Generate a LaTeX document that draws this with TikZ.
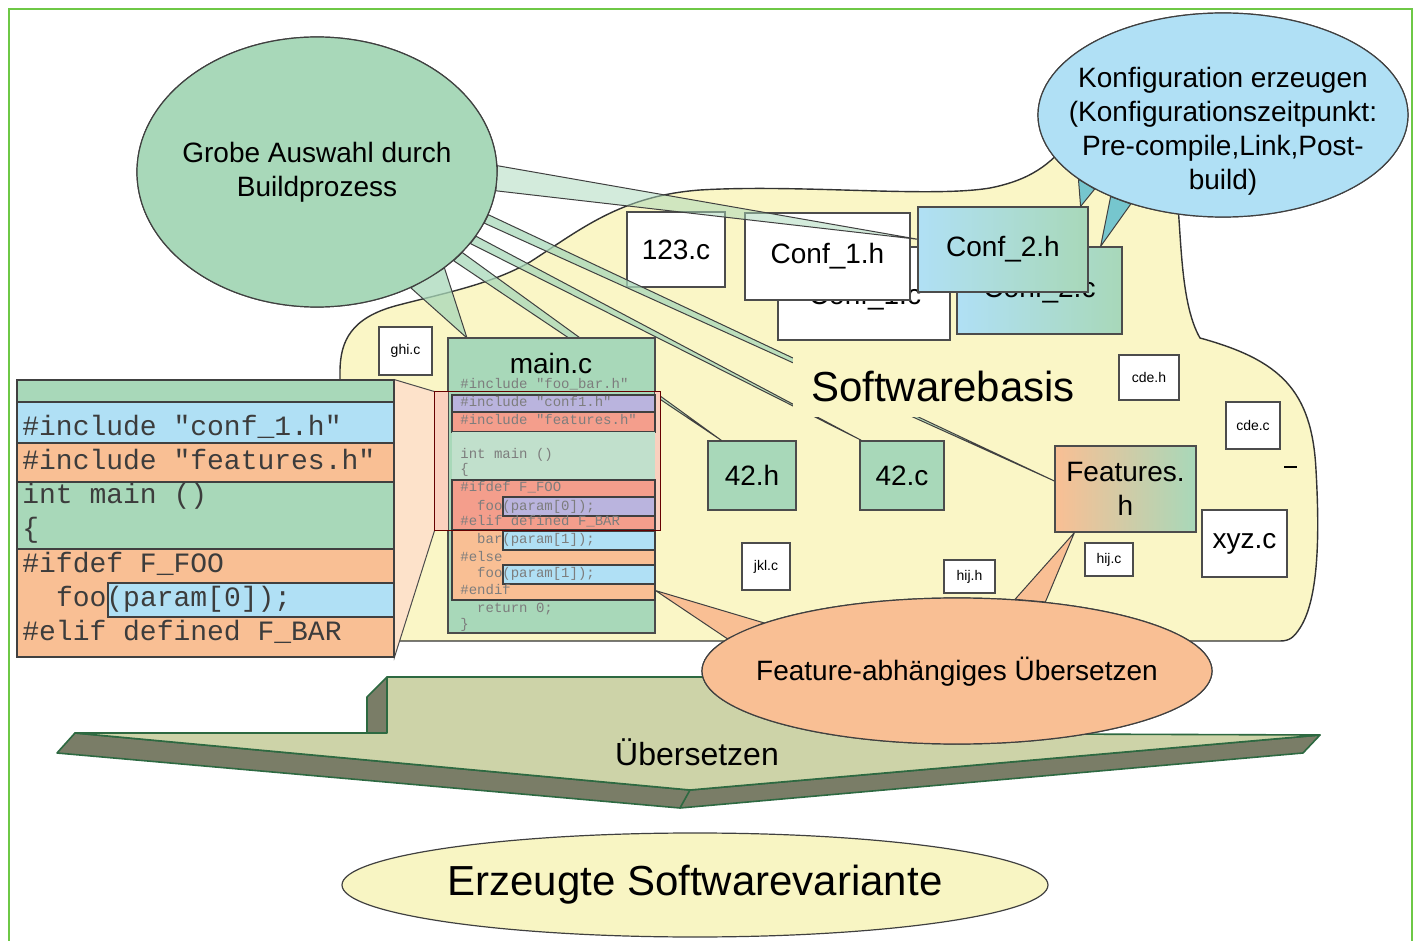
\documentclass[tikz,border=0pt]{standalone}
\usepackage{fontspec}
\setmainfont{Liberation Sans}
\setmonofont{Liberation Mono}
\usetikzlibrary{shapes.geometric,calc}

\definecolor{cgreen}{RGB}{168,216,185}
\definecolor{cblue}{RGB}{176,224,245}
\definecolor{corange}{RGB}{249,191,148}
\definecolor{cyellow}{RGB}{250,246,198}
\definecolor{cpurple}{RGB}{186,180,222}
\definecolor{cred}{RGB}{244,158,140}
\definecolor{cpaleg}{RGB}{193,224,204}
\definecolor{cpink}{RGB}{250,208,190}
\definecolor{cpeach}{RGB}{253,226,202}
\definecolor{cteal}{RGB}{118,198,206}
\definecolor{cmid}{RGB}{240,222,172}
\definecolor{arrowtop}{RGB}{205,211,168}
\definecolor{arrowdark}{RGB}{122,125,103}
\definecolor{arrowedge}{RGB}{45,105,65}
\definecolor{framegreen}{RGB}{110,200,70}
\definecolor{codegray}{RGB}{125,125,125}
\definecolor{codedark}{RGB}{60,60,60}
\definecolor{cresult}{RGB}{248,245,195}

\begin{document}
\begin{tikzpicture}[x=0.5pt,y=-0.5pt,
  sz/.style 2 args={minimum width=#1*0.5pt,minimum height=#2*0.5pt},
  filebox/.style={draw=black!70,fill=white,inner sep=0pt,line width=0.6pt,font=\fontsize{14}{17}\selectfont},
  tinybox/.style={filebox,font=\fontsize{7}{8}\selectfont},
  oval/.style={ellipse,draw=black!75,line width=0.6pt,inner sep=0pt},
  txt/.style={inner sep=0pt,align=center,font=\fontsize{14}{17}\selectfont},
  wedge/.style={draw=black!75,line width=0.5pt,line join=round},
  greenband/.style={wedge,fill=cgreen,fill opacity=0.75},
  coderow/.style={draw=black!75,line width=0.6pt},
  bigcode/.style={inner sep=0pt,anchor=base west,text=codedark,font=\ttfamily\fontsize{14}{16}\selectfont},
  smallcode/.style={inner sep=0pt,anchor=base west,text=codegray,font=\ttfamily\fontsize{7}{8}\selectfont},
]
\useasboundingbox (0,0) rectangle (1421,941);

% outer frame
\draw[framegreen,line width=1pt] (9,9) rectangle (1412,990);

% three-dimensional arrow "Übersetzen"
\filldraw[fill=arrowdark,draw=arrowedge,line width=0.8pt,line join=round]
  (57,753) -- (75,733) -- (690,790) -- (1320,735) -- (1303,753) -- (680,808) -- cycle;
\filldraw[fill=arrowdark,draw=arrowedge,line width=0.8pt,line join=round]
  (367,697) -- (387,677) -- (387,733) -- (367,733) -- cycle;
\filldraw[fill=arrowtop,draw=arrowedge,line width=0.8pt,line join=round]
  (75,733) -- (387,733) -- (387,677) -- (1050,677) -- (1050,734) -- (1320,735) -- (690,790) -- cycle;
\draw[arrowedge,line width=0.8pt] (690,790) -- (680,808);
\node[txt,font=\fontsize{16}{19}\selectfont] (uebers) at (697,752) {Übersetzen};

% resulting variant
\node[oval,fill=cresult,sz={706}{104}] (result) at (695,885) {};
\node[txt,font=\fontsize{21}{25}\selectfont] (resultt) at (695,885) {Erzeugte Softwarevariante};

% software base cloud
\filldraw[fill=cyellow,draw=black!80,line width=0.7pt]
  (352,641) .. controls (344,641) and (340,636) .. (340,626) -- (340,372)
  .. controls (340,340) and (352,318) .. (395,306)
  .. controls (440,294) and (490,285) .. (530,262)
  .. controls (580,230) and (620,196) .. (700,190)
  .. controls (800,184) and (930,198) .. (990,188)
  .. controls (1030,180) and (1050,165) .. (1070,140)
  -- (1175,180)
  .. controls (1182,220) and (1178,300) .. (1200,338)
  .. controls (1280,360) and (1312,390) .. (1316,470)
  .. controls (1320,540) and (1318,600) .. (1300,628)
  .. controls (1294,637) and (1290,641) .. (1280,641) -- cycle;

% files of the software base
\node[tinybox,sz={53}{48}] (ghic) at (405.5,351) {ghi.c};
\node[tinybox,sz={60}{45}] (cdeh) at (1149,377.5) {cde.h};
\node[tinybox,sz={54}{47}] (cdec) at (1253,425.5) {cde.c};
\node[tinybox,sz={48}{47}] (jklc) at (766,566.5) {jkl.c};
\node[tinybox,sz={51}{33}] (hijh) at (969.5,576.5) {hij.h};
\node[tinybox,sz={48}{33}] (hijc) at (1109,559.5) {hij.c};
\node[filebox,fill=cgreen,sz={88}{69}] (h42) at (752,475.5) {42.h};
\node[filebox,fill=cgreen,sz={84}{69}] (c42) at (902,475.5) {42.c};
\node[filebox,sz={85}{67}] (xyz) at (1244.5,543.5) {xyz.c};
\node[filebox,left color=corange,middle color=cmid,right color=cgreen,sz={141}{86},align=center] (feat) at (1125.5,489) {Features.\\h};
\node[filebox,sz={98}{75}] (n123) at (676,249.5) {123.c};
\node[filebox,sz={172}{93}] (conf1c) at (864,293.5) {};
\node[txt] (conf1ct) at (865,297) {Conf\_1.c};
\node[filebox,sz={165}{87}] (conf1h) at (827.5,256.5) {Conf\_1.h};
\node[filebox,left color=cblue,right color=cgreen,sz={165}{87}] (conf2c) at (1039.5,290.5) {Conf\_2.c};
\draw[line width=0.6pt] (1284,467) -- (1297,467);

% build-process ellipse and its callouts
\node[oval,fill=cgreen,sz={360}{270}] (ge) at (317,172) {};
\coordinate (tmain) at ($(ge.center)+(150,166)$);
\coordinate (t42h) at ($(h42.north west)+(14,0)$);
\coordinate (t42c) at ($(c42.north west)+(2,0)$);
\coordinate (tfeat) at ($(feat.west)+(0,-8)$);
\coordinate (tconf) at ($(conf1h.north east)+(8,27)$);
\filldraw[greenband] (ge.-51) -- (tmain) -- (ge.-37) -- cycle;
\filldraw[greenband] (ge.-33) -- (t42h) -- (ge.-29.5) -- cycle;
\filldraw[greenband] (ge.-25) -- (t42c) -- (ge.-22) -- cycle;
\filldraw[greenband] (ge.-17.5) -- (tfeat) -- (ge.-14.5) -- cycle;
\filldraw[greenband,fill opacity=0.5] (ge.2) -- (tconf) -- (ge.-6) -- cycle;
\node[oval,fill=cgreen,sz={360}{270}] at (ge.center) {};
\node[txt] (get) at (ge.center) {Grobe Auswahl durch\\Buildprozess};

\node[filebox,left color=cblue,right color=cgreen,sz={170}{85}] (conf2h) at (1003,249.5) {Conf\_2.h};

% configuration ellipse and its callouts
\node[oval,fill=cblue,sz={370}{204}] (ke) at (1223,115) {};
\coordinate (tk1) at ($(conf2h.north east)+(-8,0)$);
\coordinate (tk2) at ($(conf2c.north east)+(-22,0)$);
\filldraw[wedge,fill=cteal] (ke.-156) -- (tk1) -- (ke.-150) -- cycle;
\filldraw[wedge,fill=cteal] (ke.-144) -- (tk2) -- (ke.-136) -- cycle;
\node[oval,fill=cblue,sz={370}{204}] at (ke.center) {};
\node[txt] (ket) at (1223,131.5) {Konfiguration erzeugen\\(Konfigurationszeitpunkt:\\Pre-compile,Link,Post-\\build)};

% label of the software base
\node[fill=cyellow,inner sep=0pt,sz={300}{62},font=\fontsize{21}{25}\selectfont] (swb) at (943,386) {Softwarebasis};

% zoomed code panel and its link to main.c
\node[inner sep=0pt,sz={377}{277}] (panel) at (205.5,518.5) {};
\node[inner sep=0pt,sz={225}{138}] (zoomsrc) at (547.5,461) {};
\filldraw[fill=cpeach,draw=black!70,line width=0.5pt]
  (panel.north east) -- (zoomsrc.north west) -- (zoomsrc.south west) -- (panel.south east) -- cycle;

\filldraw[coderow,fill=cgreen] (17,380) rectangle (394,402);
\filldraw[coderow,fill=cblue] (17,402) rectangle (394,443);
\filldraw[coderow,fill=corange] (17,443) rectangle (394,482);
\filldraw[coderow,fill=cgreen] (17,482) rectangle (394,549);
\filldraw[coderow,fill=corange] (17,549) rectangle (394,657);
\filldraw[coderow,fill=cblue] (108,583) rectangle (394,617);
\node[bigcode] (p1) at (22,436) {\#include "conf\_1.h"};
\node[bigcode] (p2) at (22,470) {\#include "features.h"};
\node[bigcode] (p3) at (22,504) {int main ()};
\node[bigcode] (p4) at (22,538) {\{};
\node[bigcode] (p5) at (22,573) {\#ifdef F\_FOO};
\node[bigcode] (p6) at (22,606) {\phantom{xx}foo(param[0]);};
\node[bigcode] (p7) at (22,640) {\#elif defined F\_BAR};

% main.c
\node[draw=black!70,fill=cgreen,line width=0.6pt,inner sep=0pt,sz={207}{295}] (mainc) at (551.5,485.5) {};
\node[txt] (maint) at (551,363) {main.c};
\fill[cpink] (435,392) rectangle (448,530);
\fill[cpink] (655,392) rectangle (660,530);
\filldraw[coderow,fill=cpurple] (452,395) rectangle (655,412);
\filldraw[coderow,fill=cred] (452,412) rectangle (655,432);
\fill[cpaleg] (452,432) rectangle (655,480);
\filldraw[coderow,fill=corange] (452,480) rectangle (655,600);
\filldraw[coderow,fill=cred] (452,480) rectangle (655,530);
\filldraw[coderow,fill=cpurple] (503,497) rectangle (655,516);
\filldraw[coderow,fill=cblue] (503,531) rectangle (655,550);
\filldraw[coderow,fill=cblue] (503,565) rectangle (655,584);
\draw[black!60!red,line width=0.6pt] (zoomsrc.north west) rectangle (zoomsrc.south east);
\node[smallcode] (m1) at (460,389) {\#include "foo\_bar.h"};
\node[smallcode] (m2) at (460,407) {\#include "conf1.h"};
\node[smallcode] (m3) at (460,425) {\#include "features.h"};
\node[smallcode] (m4) at (460,459) {int main ()};
\node[smallcode] (m5) at (460,474) {\{};
\node[smallcode] (m6) at (460,492) {\#ifdef F\_FOO};
\node[smallcode] (m7) at (460,510) {\phantom{xx}foo(param[0]);};
\node[smallcode] (m8) at (460,526) {\#elif defined F\_BAR};
\node[smallcode] (m9) at (460,544) {\phantom{xx}bar(param[1]);};
\node[smallcode] (m10) at (460,561) {\#else};
\node[smallcode] (m11) at (460,578) {\phantom{xx}foo(param[1]);};
\node[smallcode] (m12) at (460,595) {\#endif};
\node[smallcode] (m13) at (460,612) {\phantom{xx}return 0;};
\node[smallcode] (m14) at (460,628) {\}};

% feature-dependent compilation ellipse and its callouts
\node[oval,fill=corange,sz={510}{146}] (oe) at (957,671) {};
\coordinate (to1) at ($(feat.south west)+(20,0)$);
\coordinate (to2) at ($(mainc.south east)+(0,-43)$);
\filldraw[wedge,fill=corange] (oe.51) -- (to1) -- (oe.38) -- cycle;
\filldraw[wedge,fill=corange] (oe.172) -- (to2) -- (oe.166) -- cycle;
\node[oval,fill=corange,sz={510}{146}] at (oe.center) {};
\node[txt] (oet) at (957,672) {Feature-abhängiges Übersetzen};
\end{tikzpicture}
\end{document}
